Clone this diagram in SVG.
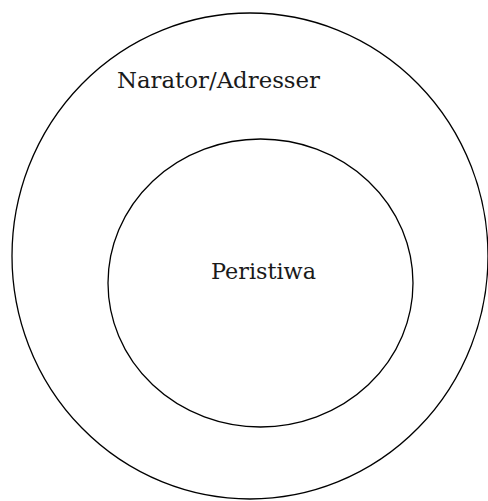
<svg xmlns="http://www.w3.org/2000/svg" width="488" height="501" viewBox="0 0 488 501">
  <style>
    .ring { fill: none; stroke: #000; stroke-width: 1.3; }
    .label { font-family: "DejaVu Serif", "Liberation Serif", serif; font-size: 22px; fill: #1a1a1a; }
  </style>
  <rect width="488" height="501" fill="#fff"/>
  <!-- outer ring: narrator / addresser -->
  <g id="narator">
    <ellipse class="ring" cx="250" cy="256" rx="238" ry="243"/>
    <text class="label" x="117" y="88" textLength="203" lengthAdjust="spacingAndGlyphs">Narator/Adresser</text>
  </g>
  <!-- inner ring: event -->
  <g id="peristiwa">
    <ellipse class="ring" cx="260.5" cy="283" rx="152.5" ry="144"/>
    <text class="label" x="211" y="279" textLength="105" lengthAdjust="spacingAndGlyphs">Peristiwa</text>
  </g>
  <g id="connectors"/>
</svg>
